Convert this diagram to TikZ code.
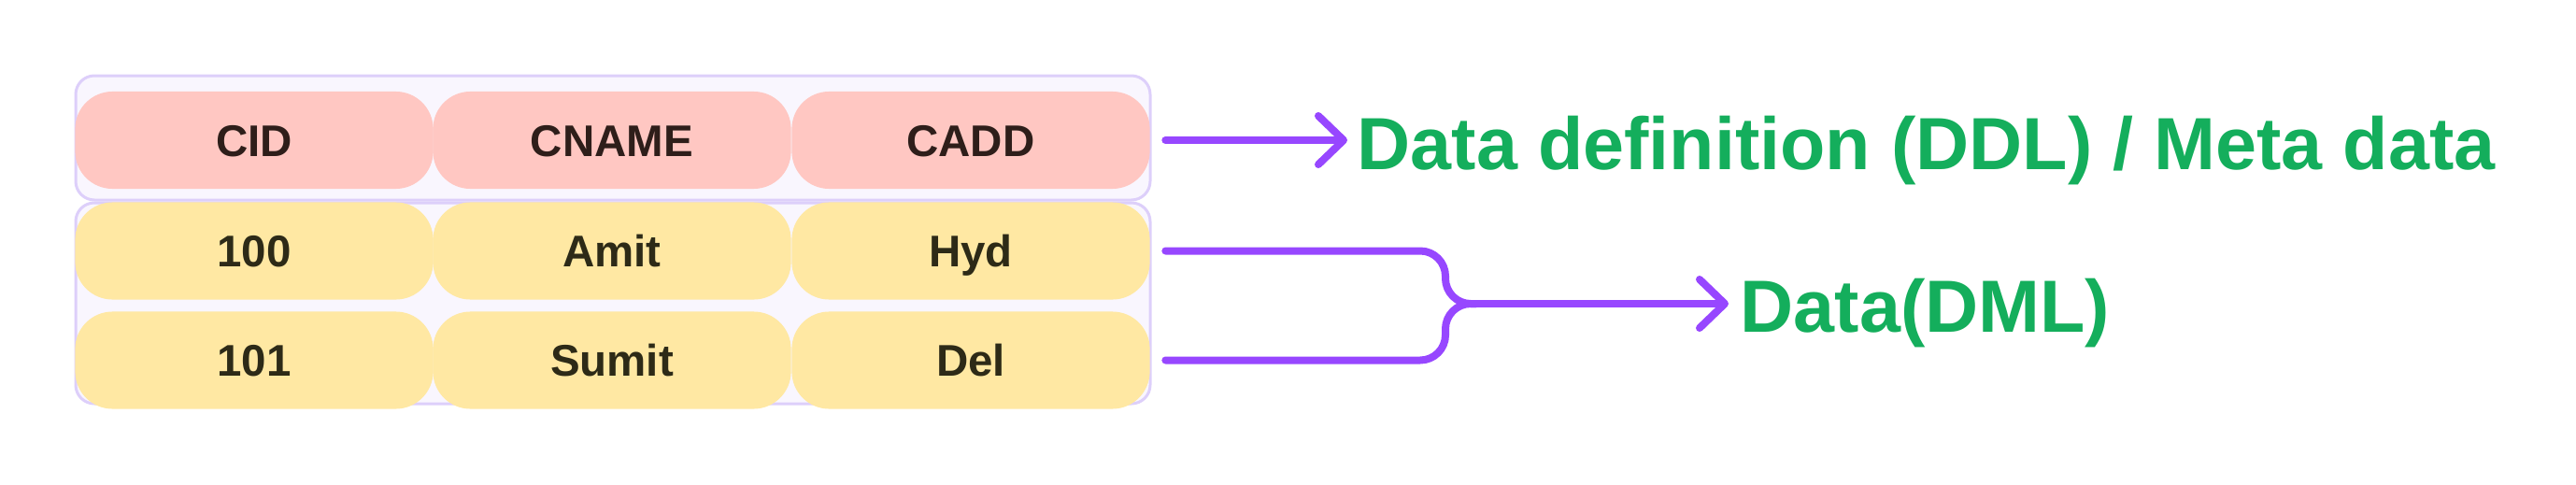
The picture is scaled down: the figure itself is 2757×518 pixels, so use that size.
\documentclass[tikz,border=0pt]{standalone}
\usepackage{fontspec}
\setmainfont{Liberation Sans}
\usetikzlibrary{arrows.meta}
\definecolor{tblfill}{HTML}{F9F6FE}
\definecolor{tblline}{HTML}{DDCFFA}
\definecolor{headfill}{HTML}{FFC7C2}
\definecolor{rowfill}{HTML}{FFE8A3}
\definecolor{headtext}{HTML}{2E1E1A}
\definecolor{rowtext}{HTML}{2D2A17}
\definecolor{linkcol}{HTML}{9747FF}
\definecolor{labelcol}{HTML}{14AE5C}

\begin{document}
\begin{tikzpicture}[x=0.01cm,y=-0.01cm,
  cell/.style={rounded corners=0.4cm, minimum width=3.83cm, minimum height=1.04cm,
    inner sep=0pt, font=\fontsize{13.5}{16}\selectfont\bfseries,
    text height=9.7pt, text depth=0pt},
  head/.style={cell, fill=headfill, text=headtext},
  row/.style={cell, fill=rowfill, text=rowtext},
  tbl/.style={fill=tblfill, draw=tblline, line width=0.03cm, rounded corners=0.2cm},
  link/.style={draw=linkcol, line width=0.08cm, line cap=round, line join=round},
  tip/.style={-{Straight Barb[length=0.27cm, width=0.52cm, round]}},
  label/.style={anchor=base west, inner sep=0pt, text=labelcol,
    font=\fontsize{22.5}{27}\selectfont\bfseries}]
\useasboundingbox (0,0) rectangle (2757,518);

% table frames
\draw[tbl] (81,81) rectangle (1231,214);
\draw[tbl] (81,217) rectangle (1231,432);

% header row
\node[head] (cid) at (272,150) {CID};
\node[head] (cname) at (655,150) {CNAME};
\node[head] (cadd) at (1039,150) {CADD};

% data rows
\node[row] (id1) at (272,268.5) {100};
\node[row] (name1) at (655,268.5) {Amit};
\node[row] (add1) at (1039,268.5) {Hyd};
\node[row] (id2) at (272,385.5) {101};
\node[row] (name2) at (655,385.5) {Sumit};
\node[row] (add2) at (1039,385.5) {Del};

% labels
\node[label] (ddl) at (1452,181) {Data definition (DDL) / Meta data};
\node[label] (dml) at (1862,355) {Data(DML)};

\coordinate (ddltip) at ([xshift=-0.1cm]ddl.base west |- cadd.east);
\coordinate (fork) at (1580,325);
\coordinate (dmltip) at ([xshift=-0.12cm]dml.base west |- fork);

\draw[link, tip] ([xshift=0.16cm]cadd.east) -- (ddltip);
\draw[link, rounded corners=0.27cm] ([xshift=0.16cm]add1.east) -| (1547,325) -- (fork);
\draw[link, rounded corners=0.27cm] ([xshift=0.16cm]add2.east) -| (1547,325) -- (fork);
\draw[link, tip] (fork) -- (dmltip);
\end{tikzpicture}
\end{document}
